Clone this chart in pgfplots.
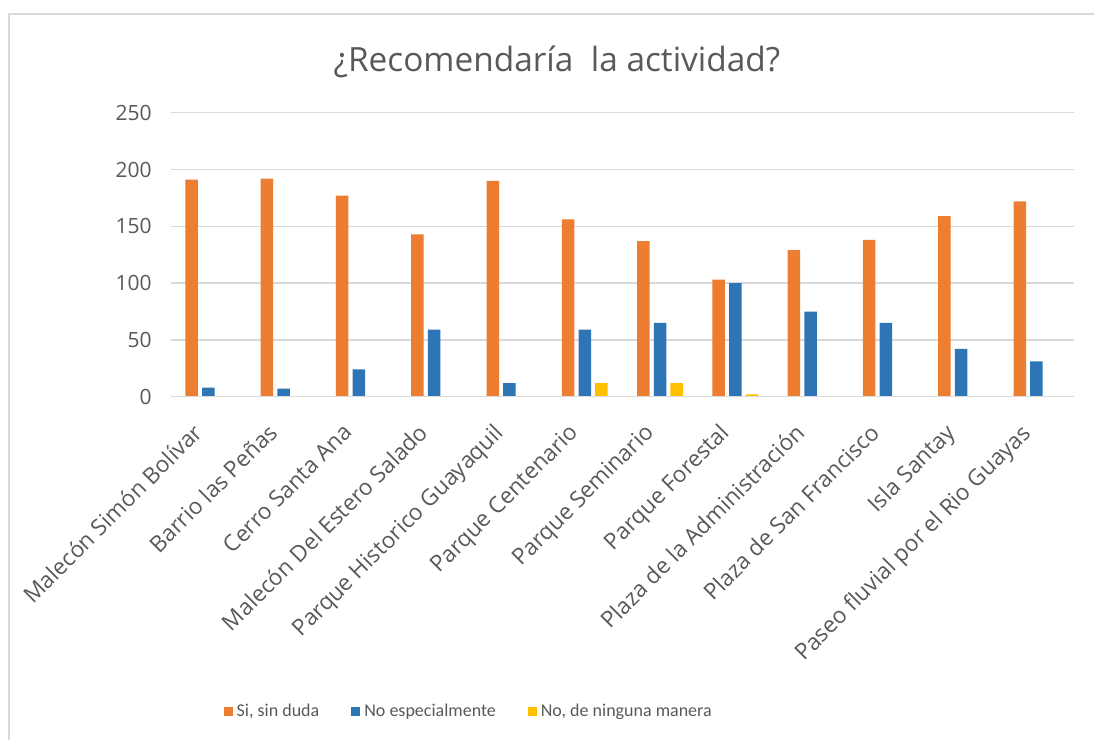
\documentclass[border=0pt]{standalone}
\usepackage{pgfplots}
\pgfplotsset{compat=1.18}
\usepackage{fontspec}
\setmainfont{Open Sans}
\newfontfamily\carlito{Carlito}
\definecolor{orangeA}{HTML}{ED7D31}
\definecolor{blueA}{HTML}{2E75B6}
\definecolor{yellowA}{HTML}{FFC000}
\definecolor{txt}{HTML}{595959}
\definecolor{gridc}{HTML}{D9D9D9}
\begin{document}
\begin{tikzpicture}
\useasboundingbox (0pt,0pt) rectangle (547pt,370pt);
\fill[white] (0pt,0pt) rectangle (547pt,370pt);
\draw[gridc, line width=1.2pt] (4.5pt,0pt) -- (4.5pt,363pt) -- (547pt,363pt);
\node[txt, font=\fontsize{16.7}{20}\selectfont] at (278.5pt,339pt) {¿Recomendaría\ \ la actividad?};
\begin{axis}[
  at={(85.35pt,171.65pt)}, anchor=south west,
  scale only axis, width=451.7pt, height=142pt,
  xmin=-0.5, xmax=11.5, ymin=0, ymax=250,
  ybar=2.1pt, bar width=6.25pt,
  axis line style={draw=none},
  ymajorgrids, grid style={gridc, line width=0.75pt},
  major tick length=0pt,
  ytick={0,50,100,150,200,250},
  /pgf/number format/assume math mode=true,
  yticklabel style={txt, font=\fontsize{10.5}{12}\selectfont, xshift=-6pt},
  xtick={0,1,2,3,4,5,6,7,8,9,10,11},
  xticklabels={{Malecón Simón Bolívar},{Barrio las Peñas},{Cerro Santa Ana},{Malecón Del Estero Salado},{Parque Historico Guayaquil},{Parque Centenario},{Parque Seminario},{Parque Forestal},{Plaza de la Administración},{Plaza de San Francisco},{Isla Santay},{Paseo fluvial por el Rio Guayas}},
  xticklabel style={txt, font=\fontsize{11.3}{13}\selectfont, xshift=-8.5pt, yshift=-12.5pt, rotate=45, anchor=north east, inner sep=0pt},
  legend style={at={(0.331,-1.110)}, anchor=center, draw=none, fill=none,
    legend columns=3, font=\carlito\fontsize{9}{11}\selectfont, text=txt,
    /tikz/every even column/.append style={column sep=14pt},
    legend cell align=left},
  legend image code/.code={\fill[#1] (0pt,-2.25pt) rectangle (4.5pt,2.25pt);},
  every axis plot/.append style={draw=none},
  clip=false,
]
\addplot[fill=orangeA] coordinates {(0,191) (1,192) (2,177) (3,143) (4,190) (5,156) (6,137) (7,103) (8,129) (9,138) (10,159) (11,172)};
\addplot[fill=blueA] coordinates {(0,8) (1,7) (2,24) (3,59) (4,12) (5,59) (6,65) (7,100) (8,75) (9,65) (10,42) (11,31)};
\addplot[fill=yellowA] coordinates {(0,0) (1,0) (2,0) (3,0) (4,0) (5,12) (6,12) (7,2) (8,0) (9,0) (10,0) (11,0)};
\legend{{Si, sin duda},{No especialmente},{No, de ninguna manera}}
\draw[gridc, line width=0.75pt] (rel axis cs:0,0) -- (rel axis cs:1,0);
\end{axis}
\end{tikzpicture}
\end{document}
